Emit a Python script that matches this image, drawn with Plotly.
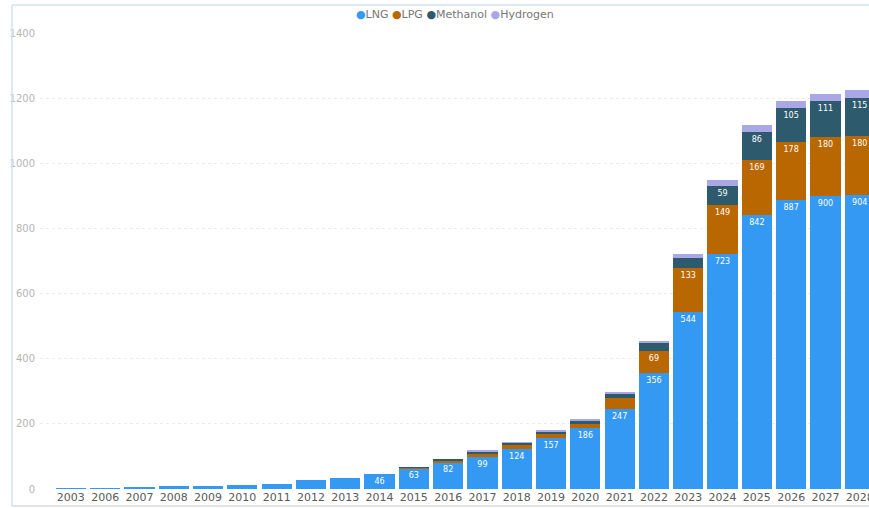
import plotly.graph_objects as go

years = ["2003", "2006", "2007", "2008", "2009", "2010", "2011", "2012", "2013", "2014",
         "2015", "2016", "2017", "2018", "2019", "2020", "2021", "2022", "2023", "2024",
         "2025", "2026", "2027", "2028"]
lng = [2, 3, 7, 8, 9, 11, 16, 28, 35, 46, 63, 82, 99, 124, 157, 186, 247, 356, 544, 723, 842, 887, 900, 904]
lpg = [0, 0, 0, 0, 0, 0, 0, 0, 0, 0, 2, 6, 10, 11, 12, 15, 31, 69, 133, 149, 169, 178, 180, 180]
methanol = [0, 0, 0, 0, 0, 0, 0, 0, 0, 0, 1, 5, 7, 7, 9, 10, 15, 24, 32, 59, 86, 105, 111, 115]
hydrogen = [0, 0, 0, 0, 0, 0, 0, 0, 0, 0, 0, 0, 1, 1, 1, 1, 2, 5, 12, 18, 20, 22, 23, 27]

series = [
    ("LNG", lng, "#3499F2", 40),
    ("LPG", lpg, "#B96700", 50),
    ("Methanol", methanol, "#2D5A6D", 50),
    ("Hydrogen", hydrogen, "#A9A7E6", None),
]

fig = go.Figure()
for name, vals, color, thr in series:
    if thr is None:
        txt = [""] * len(vals)
    else:
        txt = [str(v) if v >= thr else "" for v in vals]
    fig.add_trace(go.Bar(
        name=name, x=years, y=vals, marker=dict(color=color, line=dict(width=0)),
        text=txt, textposition="inside", insidetextanchor="end",
        textfont=dict(size=8, color="white", family="DejaVu Sans"),
        textangle=0, constraintext="none", showlegend=False,
        hoverinfo="x+y+name",
    ))

# Legend as compact text line
leg_parts = []
for name, vals, color, thr in series:
    leg_parts.append(f'<span style="color:{color}">●</span>{name}')
fig.add_annotation(
    text=" ".join(leg_parts), xref="paper", yref="paper",
    x=0.5, y=(489 - 15) / 456, xanchor="center", yanchor="middle",
    showarrow=False, font=dict(size=11, color="#777777", family="DejaVu Sans"),
)

# Frame lines (screenshot border)
fx = (12 - 40) / 829
ft = (489 - 5) / 456
fb = (489 - 506) / 456
line_col = "#cfe2f3"
fig.add_shape(type="line", xref="paper", yref="paper", x0=fx, x1=fx, y0=fb, y1=ft,
              line=dict(color=line_col, width=1.5))
fig.add_shape(type="line", xref="paper", yref="paper", x0=fx, x1=1.02, y0=ft, y1=ft,
              line=dict(color=line_col, width=1.5))
fig.add_shape(type="line", xref="paper", yref="paper", x0=fx, x1=1.02, y0=fb, y1=fb,
              line=dict(color="#d8d8d8", width=1.5))

fig.update_layout(
    width=869, height=508,
    margin=dict(l=40, r=0, t=33, b=19, autoexpand=False),
    barmode="stack", bargap=0.12,
    plot_bgcolor="white", paper_bgcolor="white",
    font=dict(family="DejaVu Sans"),
    xaxis=dict(type="category", range=[-0.9, 23.27], showgrid=False, showline=False,
               automargin=False, ticks="", tickfont=dict(size=11, color="#5a5a5a"),
               fixedrange=True),
    yaxis=dict(range=[0, 1400], dtick=200, showgrid=True, gridcolor="#ececec",
               griddash="dot", zeroline=False, showline=False, automargin=False,
               tickfont=dict(size=10, color="#b5b5b5"), ticklabelstandoff=4),
    uniformtext=dict(minsize=7, mode="show"),
)

fig.write_html("out.html")
